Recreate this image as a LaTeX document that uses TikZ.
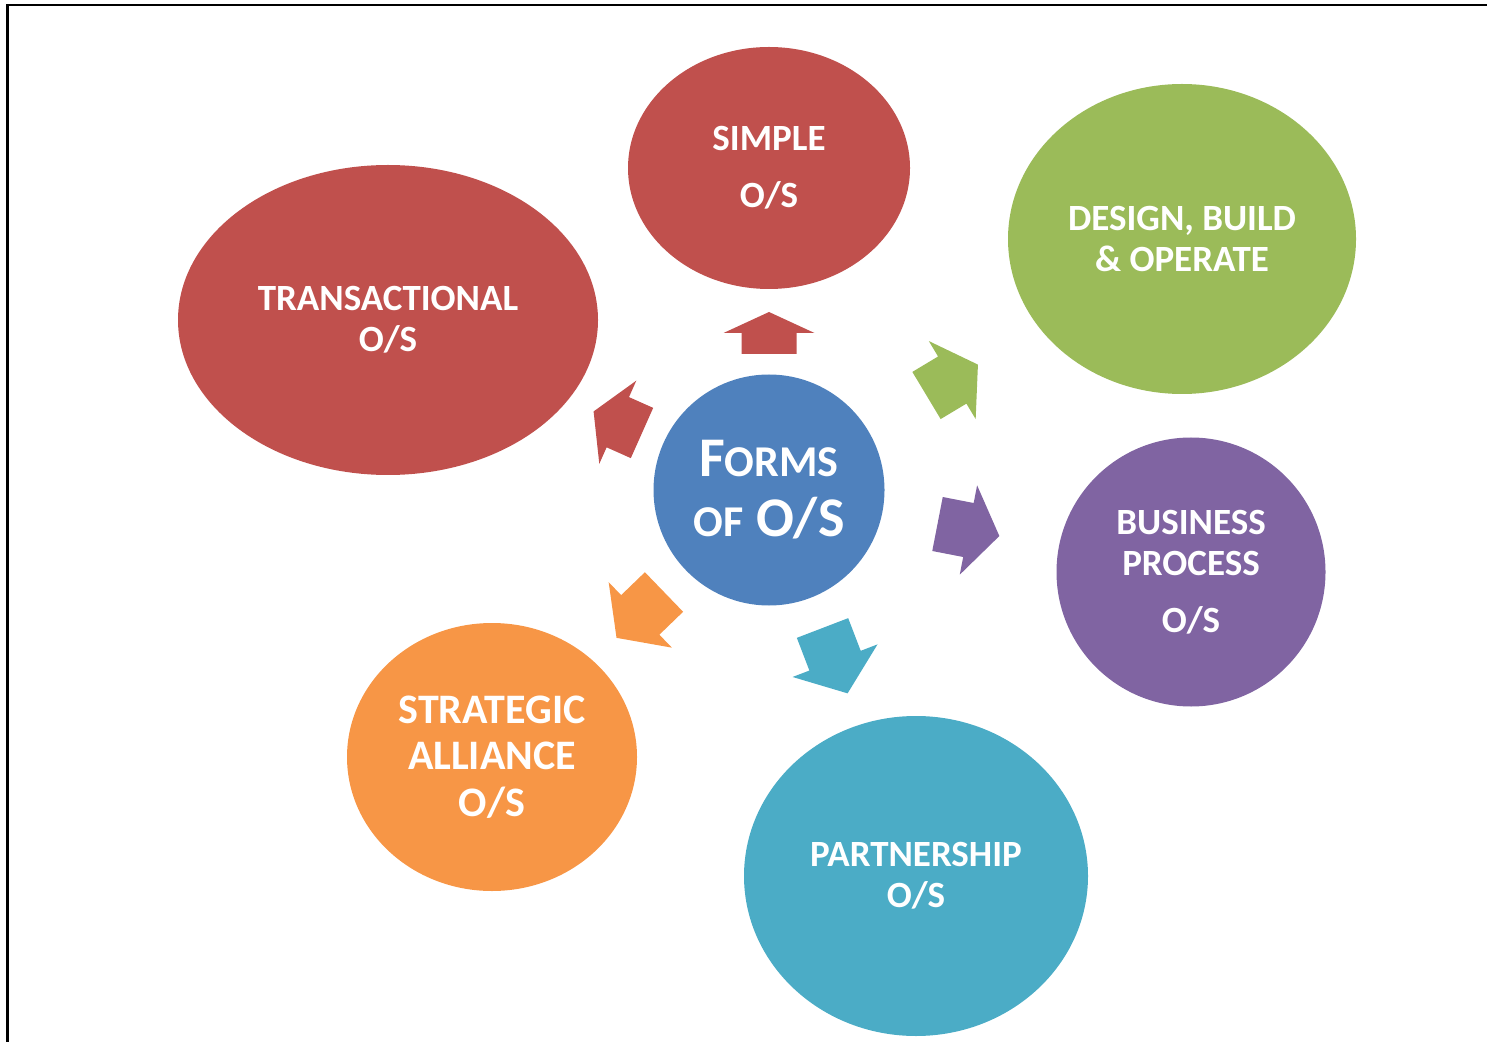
\documentclass[tikz,border=0pt]{standalone}
\usepackage{fontspec}
\setmainfont{Carlito}
\usetikzlibrary{shapes.geometric,calc}
\definecolor{cred}{HTML}{C0504D}
\definecolor{cgreen}{HTML}{9BBB59}
\definecolor{cpurple}{HTML}{8064A2}
\definecolor{cteal}{HTML}{4BACC6}
\definecolor{corange}{HTML}{F79646}
\definecolor{cblue}{HTML}{4F81BD}
\newcommand{\blockarr}[4]{%
  \fill[#1, shift={($(c.center)+(#2)$)}, rotate=#3]
    (0,-27.5) -- ({#4/2},-27.5) -- ({#4/2},-45.5) -- (#4,0)
    -- ({#4/2},45.5) -- ({#4/2},27.5) -- (0,27.5) -- cycle;}
\begin{document}
\begin{tikzpicture}[x=0.5pt,y=-0.5pt,
  bub/.style={ellipse, inner sep=0pt, text=white, align=center,
    font=\bfseries\fontsize{18.5}{20.5}\selectfont}]
\useasboundingbox (0,0) rectangle (1487,1042);
\draw[line width=1.25pt] (7.3,1042) -- (7.3,5.2) -- (1487,5.2);

\node[bub, fill=cblue, minimum width=115.5pt, minimum height=115.5pt,
  font=\bfseries\fontsize{28}{30}\selectfont] (c) at (769,490)
  {F{\fontsize{22}{30}\selectfont ORMS}\\[0pt]{\fontsize{22}{30}\selectfont OF} O/S};

\node[bub, fill=cred, minimum width=141pt, minimum height=121pt] (simple) at (769,168)
  {SIMPLE\\[8pt]O/S};
\node[bub, fill=cgreen, minimum width=174pt, minimum height=155pt] (design) at (1182,239)
  {DESIGN, BUILD\\\& OPERATE};
\node[bub, fill=cred, minimum width=210pt, minimum height=155pt] (trans) at (388,320)
  {TRANSACTIONAL\\O/S};
\node[bub, fill=cpurple, minimum width=134.5pt, minimum height=134.5pt] (business) at (1191,572)
  {BUSINESS\\PROCESS\\[8pt]O/S};
\node[bub, fill=corange, minimum width=145pt, minimum height=134pt,
  font=\bfseries\fontsize{21}{23.25}\selectfont] (strategic) at (492,757)
  {STRATEGIC\\ALLIANCE\\O/S};
\node[bub, fill=cteal, minimum width=172pt, minimum height=160pt] (partner) at (916,876)
  {PARTNERSHIP\\O/S};

\blockarr{cred}{0,-136}{90}{42}
\blockarr{cgreen}{157.5,-94.5}{31}{60}
\blockarr{cred}{-127,-57}{156}{53}
\blockarr{cpurple}{168.5,34}{-11}{63}
\blockarr{cteal}{53.5,138}{-69}{70}
\blockarr{corange}{-105,102}{224}{66}
\end{tikzpicture}
\end{document}
